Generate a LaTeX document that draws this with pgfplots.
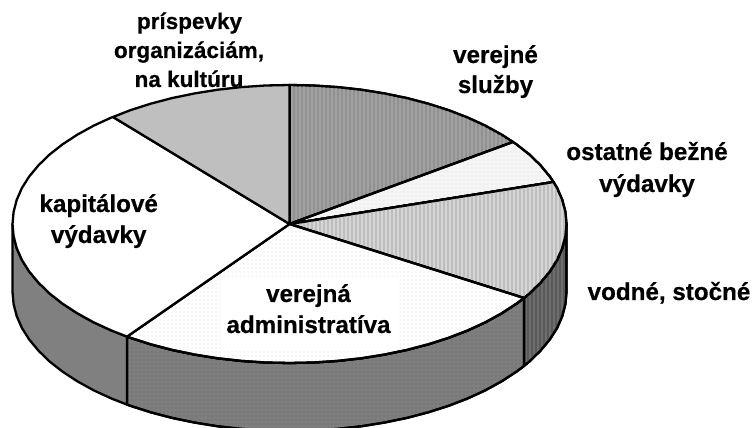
\documentclass[border=0pt]{standalone}
\usepackage{fontspec}
\setmainfont[BoldFeatures={FakeBold=0.5}]{Liberation Sans}
\usepackage{pgfplots}
\pgfplotsset{compat=1.18}
\usetikzlibrary{patterns.meta}
\definecolor{sideA}{HTML}{6E6E6E}
\definecolor{sideB}{HTML}{7E7E7E}
\definecolor{sideC}{HTML}{808080}
\tikzset{
  wedge/.style={draw=black,line width=2.3bp,line join=round},
  lab/.style={font=\fontsize{24.2bp}{29bp}\selectfont\bfseries,anchor=base,text=black,inner sep=0pt},
  labs/.style={font=\fontsize{22.5bp}{29bp}\selectfont\bfseries,anchor=base,text=black,inner sep=0pt},
}
\begin{document}
\begin{tikzpicture}
\useasboundingbox (0,0) rectangle (754bp,428bp);
\begin{axis}[
  at={(0,0)},anchor=south west,
  scale only axis,width=754bp,height=428bp,
  xmin=-289.5,xmax=464.5,ymin=-204,ymax=224,
  hide axis,
]
% side: vodne
\addplot[wedge,fill=sideA,postaction={pattern={Lines[angle=90,distance=4bp,line width=1.2bp]},pattern color=black!65}] coordinates {
 (277,0)(275.9,-12.1)(272.8,-24.1)(267.6,-36)(260.3,-47.5)(251,-58.7)(239.9,-69.5)(234.5,-74)
 (234.5,-142)(239.9,-137.5)(251,-126.7)(260.3,-115.5)(267.6,-104)(272.8,-92.1)(275.9,-80.1)(277,-68)} -- cycle;
% side: administrativa
\addplot[wedge,fill=sideB,postaction={pattern={Dots[radius=0.6bp,distance=4bp]},pattern color=black!62}] coordinates {
 (234.5,-74)(226.9,-79.7)(212.2,-89.3)(195.9,-98.3)(178.1,-106.5)(158.9,-113.9)(138.5,-120.4)(117.1,-126)(94.7,-130.6)(71.7,-134.3)(48.1,-136.9)(24.1,-138.5)(0,-139)
 (-24.1,-138.5)(-48.1,-136.9)(-71.7,-134.3)(-94.7,-130.6)(-117.1,-126)(-138.5,-120.4)(-158.9,-113.9)(-162.5,-112.6)
 (-162.5,-180.6)(-158.9,-181.9)(-138.5,-188.4)(-117.1,-194)(-94.7,-198.6)(-71.7,-202.3)(-48.1,-204.9)(-24.1,-206.5)(0,-207)
 (24.1,-206.5)(48.1,-204.9)(71.7,-202.3)(94.7,-198.6)(117.1,-194)(138.5,-188.4)(158.9,-181.9)(178.1,-174.5)(195.9,-166.3)(212.2,-157.3)(226.9,-147.7)(234.5,-142)} -- cycle;
% side: kapitalove
\addplot[wedge,fill=sideC] coordinates {
 (-162.5,-112.6)(-178.1,-106.5)(-195.9,-98.3)(-212.2,-89.3)(-226.9,-79.7)(-239.9,-69.5)(-251,-58.7)(-260.3,-47.5)(-267.6,-36)(-272.8,-24.1)(-275.9,-12.1)(-277,0)
 (-277,-68)(-275.9,-80.1)(-272.8,-92.1)(-267.6,-104)(-260.3,-115.5)(-251,-126.7)(-239.9,-137.5)(-226.9,-147.7)(-212.2,-157.3)(-195.9,-166.3)(-178.1,-174.5)(-162.5,-180.6)} -- cycle;
% top: verejne sluzby
\addplot[wedge,fill=black!43,postaction={pattern={Lines[angle=90,distance=4bp,line width=1.2bp]},pattern color=black!37}] coordinates {
 (0,0)(0,139)(24.1,138.5)(48.1,136.9)(71.7,134.3)(94.7,130.6)(117.1,126)(138.5,120.4)(158.9,113.9)(178.1,106.5)(195.9,98.3)(212.2,89.3)(223.5,82)} -- cycle;
% top: ostatne bezne
\addplot[wedge,fill=black!4,postaction={pattern={Dots[radius=0.7bp,distance=4bp]},pattern color=black!15}] coordinates {
 (0,0)(223.5,82)(226.9,79.7)(239.9,69.5)(251,58.7)(260.3,47.5)(264,42)} -- cycle;
% top: vodne
\addplot[wedge,fill=black!16,postaction={pattern={Lines[angle=90,distance=4bp,line width=1.4bp]},pattern color=black!26}] coordinates {
 (0,0)(264,42)(267.6,36)(272.8,24.1)(275.9,12.1)(277,0)(275.9,-12.1)(272.8,-24.1)(267.6,-36)(260.3,-47.5)(251,-58.7)(239.9,-69.5)(234.5,-74)} -- cycle;
% top: administrativa
\addplot[wedge,fill=white,postaction={pattern={Dots[radius=0.5bp,distance=4bp]},pattern color=black!22}] coordinates {
 (0,0)(234.5,-74)(226.9,-79.7)(212.2,-89.3)(195.9,-98.3)(178.1,-106.5)(158.9,-113.9)(138.5,-120.4)(117.1,-126)(94.7,-130.6)(71.7,-134.3)(48.1,-136.9)(24.1,-138.5)(0,-139)
 (-24.1,-138.5)(-48.1,-136.9)(-71.7,-134.3)(-94.7,-130.6)(-117.1,-126)(-138.5,-120.4)(-158.9,-113.9)(-162.5,-112.6)} -- cycle;
% top: kapitalove
\addplot[wedge,fill=white] coordinates {
 (0,0)(-162.5,-112.6)(-178.1,-106.5)(-195.9,-98.3)(-212.2,-89.3)(-226.9,-79.7)(-239.9,-69.5)(-251,-58.7)(-260.3,-47.5)(-267.6,-36)(-272.8,-24.1)(-275.9,-12.1)(-277,0)
 (-275.9,12.1)(-272.8,24.1)(-267.6,36)(-260.3,47.5)(-251,58.7)(-239.9,69.5)(-226.9,79.7)(-212.2,89.3)(-195.9,98.3)(-178.1,106.5)(-176.5,107)} -- cycle;
% top: prispevky
\addplot[wedge,fill=black!25] coordinates {
 (0,0)(-176.5,107)(-158.9,113.9)(-138.5,120.4)(-117.1,126)(-94.7,130.6)(-71.7,134.3)(-48.1,136.9)(-24.1,138.5)(0,139)} -- cycle;
% white label background
\node[fill=white,inner sep=0pt,minimum width=174bp,minimum height=72bp] at (axis cs:20,-89) {};
% labels
\node[labs] at (axis cs:-100,195) {príspevky};
\node[labs] at (axis cs:-100.5,166) {organizáciám,};
\node[labs] at (axis cs:-100.5,137) {na kultúru};
\node[lab] at (axis cs:206,161) {verejné};
\node[lab] at (axis cs:206,131) {služby};
\node[lab] at (axis cs:357.5,64) {ostatné bežné};
\node[lab] at (axis cs:357.5,32) {výdavky};
\node[lab] at (axis cs:379.5,-76) {vodné, stočné};
\node[lab] at (axis cs:-190.8,12) {kapitálové};
\node[lab] at (axis cs:-190.8,-19) {výdavky};
\node[lab] at (axis cs:19,-78) {verejná};
\node[lab] at (axis cs:19,-109) {administratíva};
\end{axis}
\end{tikzpicture}
\end{document}
